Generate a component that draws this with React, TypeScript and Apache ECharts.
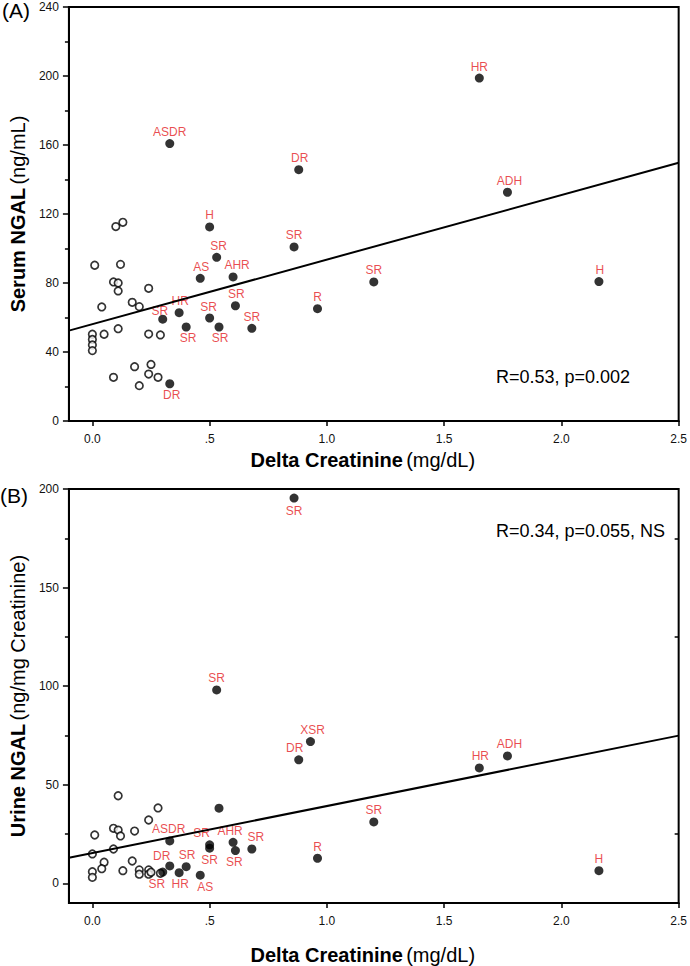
import React, { useEffect, useRef } from "react";
import * as echarts from "echarts";

// ---------- data ----------
// Panel A: Serum NGAL (ng/mL) vs Delta Creatinine (mg/dL)
const openA: [number, number][] = [
  [0.01, 90.3], [0, 50.3], [0, 47.3], [0, 44.1], [0, 40.8], [0.04, 66.1], [0.05, 50.3],
  [0.09, 25.3], [0.09, 80.6], [0.1, 112.7], [0.11, 80.0], [0.11, 75.4], [0.11, 53.5],
  [0.12, 90.8], [0.13, 115.2], [0.17, 68.8], [0.18, 31.5], [0.2, 66.3], [0.2, 20.5],
  [0.24, 76.9], [0.24, 50.4], [0.24, 27.2], [0.25, 32.8], [0.28, 25.3], [0.29, 49.9],
];
const filledA: [number, number][] = [
  [0.33, 160.8], [0.88, 145.7], [0.5, 112.5], [0.86, 100.9], [0.53, 94.9], [0.46, 82.7],
  [0.6, 83.5], [0.61, 66.8], [0.96, 65.1], [0.37, 62.8], [0.3, 59.0], [0.5, 59.7],
  [0.4, 54.5], [0.54, 54.5], [0.68, 53.7], [0.33, 21.6], [1.65, 198.8], [1.77, 132.6],
  [1.2, 80.6], [2.16, 80.8],
];
const labelsA: string[] = [
  "ASDR", "DR", "H", "SR", "SR", "AS", "AHR", "SR", "R", "HR", "SR", "SR",
  "SR", "SR", "SR", "DR", "HR", "ADH", "SR", "H",
];
const fitA: [number, number][] = [[-0.1, 52.4], [2.5, 149.7]];
const statA = "R=0.53, p=0.002";

// Panel B: Urine NGAL (ng/mg Creatinine) vs Delta Creatinine (mg/dL)
const openB: [number, number][] = [
  [0.11, 44.4], [0.28, 38.2], [0.24, 32.1], [0.01, 24.5], [0.09, 27.9], [0.11, 27.0],
  [0.12, 24.0], [0.18, 26.5], [0, 14.9], [0.09, 17.4], [0.05, 10.7], [0.04, 7.4],
  [0, 5.9], [0, 3.0], [0.13, 6.4], [0.17, 11.3], [0.2, 6.8], [0.2, 4.6], [0.24, 6.8],
  [0.24, 4.6], [0.25, 5.6], [0.29, 5.1],
];
const filledB: [number, number][] = [
  [0.86, 195.4], [0.53, 98.1], [0.93, 71.9], [0.88, 62.6], [0.54, 38.1], [0.33, 21.5],
  [0.5, 19.5], [0.5, 17.8], [0.6, 20.8], [0.61, 16.6], [0.68, 17.4], [0.96, 12.7],
  [0.33, 8.8], [0.4, 8.4], [0.37, 5.4], [0.46, 4.1], [0.3, 5.7], [1.65, 58.5],
  [1.77, 64.6], [1.2, 31.1], [2.16, 6.4],
];
const labelsB: string[] = [
  "SR", "SR", "XSR", "DR", "", "ASDR", "SR", "SR", "AHR", "SR", "SR", "R",
  "DR", "SR", "HR", "AS", "SR", "HR", "ADH", "SR", "H",
];
const fitB: [number, number][] = [[-0.1, 13.0], [2.5, 74.9]];
const statB = "R=0.34, p=0.055, NS";

// Axis ticks
const xTicks = [0, 0.5, 1, 1.5, 2, 2.5];
const yTicksA = [0, 40, 80, 120, 160, 200, 240];
const yMinorA = [20, 60, 100, 140, 180, 220];
const yTicksB = [0, 50, 100, 150, 200];
const yMinorB = [25, 75, 125, 175];
const yRightMinorB = [25, 125, 175];

// ---------- label placement (style) ----------
type Place = [string, number, number];
const placeA: Place[] = [
  ["top", 0, 0], ["top", 1, 0], ["top", 0, 0], ["top", 0, 0], ["top", 2, 0], ["top", 1, 0],
  ["top", 4, 0], ["top", 1, 0], ["top", 0, 0], ["top", 1, 0], ["top", -3, 3], ["top", -1, 0],
  ["bottom", 2, 0], ["bottom", 1, 0], ["top", 0, 0], ["bottom", 2, 0], ["top", 0, 0],
  ["top", 2, 0], ["top", 0, 0], ["top", 1, 0],
];
const placeB: Place[] = [
  ["bottom", 0, 1], ["top", 0, 0], ["top", 2, 0], ["top", -4, 0], ["top", 0, 0], ["top", -1, 0],
  ["top", -8, 0], ["bottom", 0, 0], ["top", -3, 0], ["bottom", -1, 0], ["top", 4, 0], ["top", 0, 0],
  ["top", -8, 2], ["top", 1, 0], ["bottom", 1, 0], ["bottom", 5, 0], ["bottom", -6, 0],
  ["top", 1, 0], ["top", 2, 0], ["top", 0, 0], ["top", 0, 0],
];

const FONT = "Liberation Sans, Arial, Helvetica, sans-serif";
const RED = "#e41c24";

function labelled(points: [number, number][], labels: string[], place: Place[]) {
  return points.map((p, i) => ({
    value: p,
    name: labels[i],
    label: {
      show: labels[i] !== "",
      formatter: labels[i],
      position: place[i][0],
      offset: [place[i][1], place[i][2]],
      distance: 1,
      color: RED,
      fontSize: 12,
      fontFamily: FONT,
    },
  }));
}

function xAxis(gridIndex: number, nameGap: number) {
  return {
    type: "value",
    gridIndex,
    min: -0.1,
    max: 2.5,
    name: "{b|Delta Creatinine} {n|(mg/dL)}",
    nameLocation: "middle",
    nameGap,
    nameTextStyle: {
      padding: [0, 22, 0, 0],
      rich: {
        b: { fontSize: 20, fontWeight: "bold", fontFamily: FONT, color: "#000" },
        n: { fontSize: 20, fontFamily: FONT, color: "#000" },
      },
    },
    axisLine: { show: true, onZero: false, lineStyle: { color: "#000", width: 2 } },
    axisTick: { show: true, customValues: xTicks, length: 5, lineStyle: { color: "#000", width: 1.5 } },
    axisLabel: {
      customValues: xTicks,
      margin: 12,
      fontSize: 12,
      fontFamily: FONT,
      color: "#111",
      formatter: (v: number) => (v === 0.5 ? ".5" : v.toFixed(1)),
    },
    splitLine: { show: false },
  };
}

function yAxis(gridIndex: number, min: number, max: number, ticks: number[], name: string, unit: string) {
  return {
    type: "value",
    gridIndex,
    min,
    max,
    position: "left",
    name: `{b|${name}} {n|${unit}}`,
    nameLocation: "middle",
    nameGap: 40,
    nameTextStyle: {
      rich: {
        b: { fontSize: 20, fontWeight: "bold", fontFamily: FONT, color: "#000" },
        n: { fontSize: 20, fontFamily: FONT, color: "#000" },
      },
    },
    axisLine: { show: true, onZero: false, lineStyle: { color: "#000", width: 2 } },
    axisTick: { show: true, customValues: ticks, length: 6, lineStyle: { color: "#000", width: 1.5 } },
    axisLabel: { customValues: ticks, margin: 10, fontSize: 12, fontFamily: FONT, color: "#111" },
    splitLine: { show: false },
  };
}

function minorAxis(gridIndex: number, min: number, max: number, ticks: number[], position: string, inside: boolean) {
  return {
    type: "value",
    gridIndex,
    min,
    max,
    position,
    offset: 0,
    axisLine: { show: false, onZero: false },
    axisTick: { show: true, customValues: ticks, inside, length: 4, lineStyle: { color: "#000", width: 1.5 } },
    axisLabel: { show: false },
    splitLine: { show: false },
  };
}

export default function App() {
  const ref = useRef<HTMLDivElement>(null);
  useEffect(() => {
    if (!ref.current) return;
    const chart = echarts.init(ref.current, undefined, { renderer: "svg" });
    const openStyle = { color: "#fff", borderColor: "#000", borderWidth: 1.7 };
    const lineStyle = { color: "#000", width: 2 };
    chart.setOption({
      animation: false,
      backgroundColor: "#fff",
      textStyle: { fontFamily: FONT },
      grid: [
        { left: 67, top: 7, width: 613, height: 414, show: true, borderColor: "#000", borderWidth: 2, backgroundColor: "transparent" },
        { left: 67, top: 489, width: 613, height: 414, show: true, borderColor: "#000", borderWidth: 2, backgroundColor: "transparent" },
      ],
      xAxis: [xAxis(0, 29), xAxis(1, 42)],
      yAxis: [
        yAxis(0, 0, 240, yTicksA, "Serum NGAL", "(ng/mL)"),
        yAxis(1, -10, 200, yTicksB, "Urine NGAL", "(ng/mg Creatinine)"),
        minorAxis(0, 0, 240, yMinorA, "left", false),
        minorAxis(1, -10, 200, yMinorB, "left", false),
        minorAxis(1, -10, 200, yRightMinorB, "right", true),
      ],
      graphic: [
        { type: "text", left: 2, top: 0, style: { text: "(A)", fontSize: 21, fontFamily: FONT, fill: "#000" } },
        { type: "text", left: 0, top: 485, style: { text: "(B)", fontSize: 21, fontFamily: FONT, fill: "#000" } },
        { type: "text", left: 496, top: 368, style: { text: statA, fontSize: 18, fontFamily: FONT, fill: "#000" } },
        { type: "text", left: 496, top: 522, style: { text: statB, fontSize: 18, fontFamily: FONT, fill: "#000" } },
      ],
      series: [
        { type: "line", xAxisIndex: 0, yAxisIndex: 0, data: fitA, symbol: "none", lineStyle, silent: true },
        { type: "line", xAxisIndex: 1, yAxisIndex: 1, data: fitB, symbol: "none", lineStyle, silent: true },
        { type: "scatter", xAxisIndex: 0, yAxisIndex: 0, data: openA, symbolSize: 7.5, itemStyle: openStyle },
        { type: "scatter", xAxisIndex: 1, yAxisIndex: 1, data: openB, symbolSize: 7.5, itemStyle: openStyle },
        {
          type: "scatter", xAxisIndex: 0, yAxisIndex: 0, symbolSize: 9,
          itemStyle: { color: "#000" }, data: labelled(filledA, labelsA, placeA),
        },
        {
          type: "scatter", xAxisIndex: 1, yAxisIndex: 1, symbolSize: 9,
          itemStyle: { color: "#000" }, data: labelled(filledB, labelsB, placeB),
        },
      ],
    });
    return () => chart.dispose();
  }, []);
  return <div ref={ref} style={{ position: "fixed", left: 0, top: 0, width: 690, height: 966, background: "#fff" }} />;
}
